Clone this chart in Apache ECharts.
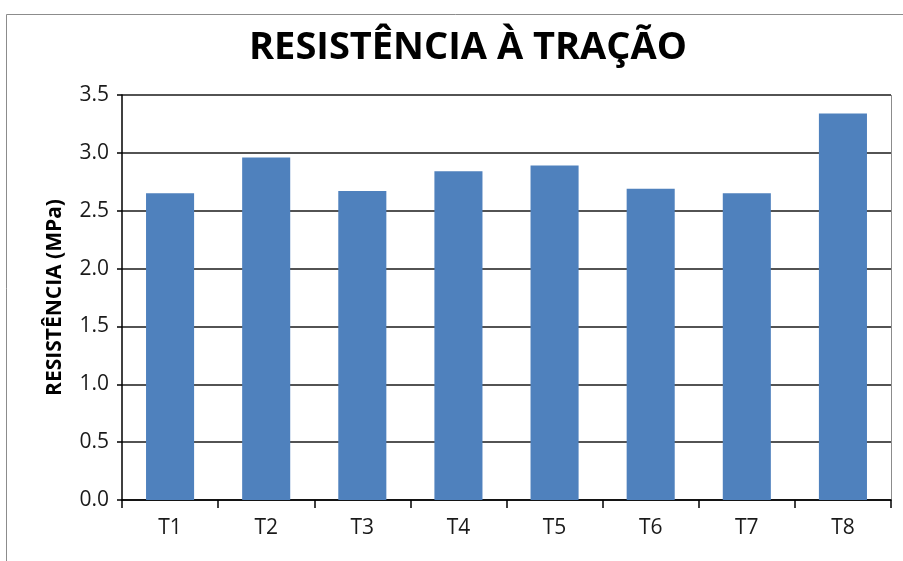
<!DOCTYPE html>
<html>
<head>
<meta charset="utf-8">
<script src="https://cdn.jsdelivr.net/npm/echarts@6/dist/echarts.min.js"></script>
<style>
  html, body { margin: 0; padding: 0; background: #fff; }
  #ct { width: 903px; height: 561px; }
</style>
</head>
<body>
<div id="ct"></div>
<script>
// dados
const categorias = ["T1", "T2", "T3", "T4", "T5", "T6", "T7", "T8"];
const resistencia = [2.65, 2.96, 2.67, 2.84, 2.89, 2.69, 2.65, 3.34];
const yTicks = [0, 0.5, 1, 1.5, 2, 2.5, 3, 3.5];

const chart = echarts.init(document.getElementById("ct"));
const option = {
  animation: false,
  backgroundColor: "#fff",
  textStyle: { fontFamily: "Open Sans" },
  title: {
    text: "RESISTÊNCIA À TRAÇÃO",
    left: 463,
    textAlign: "center",
    top: 24,
    textStyle: { fontSize: 38, fontWeight: "bold", color: "#000", fontFamily: "Open Sans" }
  },
  graphic: [
    {
      type: "rect",
      shape: { x: 6.5, y: 14.5, width: 1000, height: 1000 },
      style: { fill: "none", stroke: "#8c8c8c", lineWidth: 1 },
      silent: true
    },
    {
      type: "line",
      shape: { x1: 891.5, y1: 95, x2: 891.5, y2: 500 },
      style: { stroke: "#8c8c8c", lineWidth: 1 },
      silent: true
    }
  ],
  grid: { left: 122, right: 12, top: 95, bottom: 61 },
  xAxis: {
    type: "category",
    data: categorias,
    axisLine: { lineStyle: { color: "#000", width: 1.5 } },
    axisTick: { show: true, length: 8, alignWithLabel: false, lineStyle: { color: "#000", width: 1.5 } },
    axisLabel: { color: "#1a1a1a", fontSize: 21, margin: 18 }
  },
  yAxis: {
    type: "value",
    min: 0,
    max: 3.5,
    interval: 0.5,
    name: "RESISTÊNCIA (MPa)",
    nameLocation: "middle",
    nameGap: 56,
    nameTextStyle: { color: "#000", fontSize: 21, fontWeight: "bold" },
    axisLine: { show: true, lineStyle: { color: "#000", width: 1.5 } },
    axisTick: { show: true, length: 5, lineStyle: { color: "#000", width: 1.5 } },
    axisLabel: {
      color: "#1a1a1a",
      fontSize: 21,
      margin: 13,
      formatter: v => yTicks.includes(v) ? v.toFixed(1) : ""
    },
    splitLine: { lineStyle: { color: "#1a1a1a", width: 1.5 } }
  },
  series: [
    {
      type: "bar",
      data: resistencia,
      barCategoryGap: "50%",
      itemStyle: { color: "#4f81bd" }
    }
  ]
};
chart.setOption(option);
</script>
</body>
</html>
